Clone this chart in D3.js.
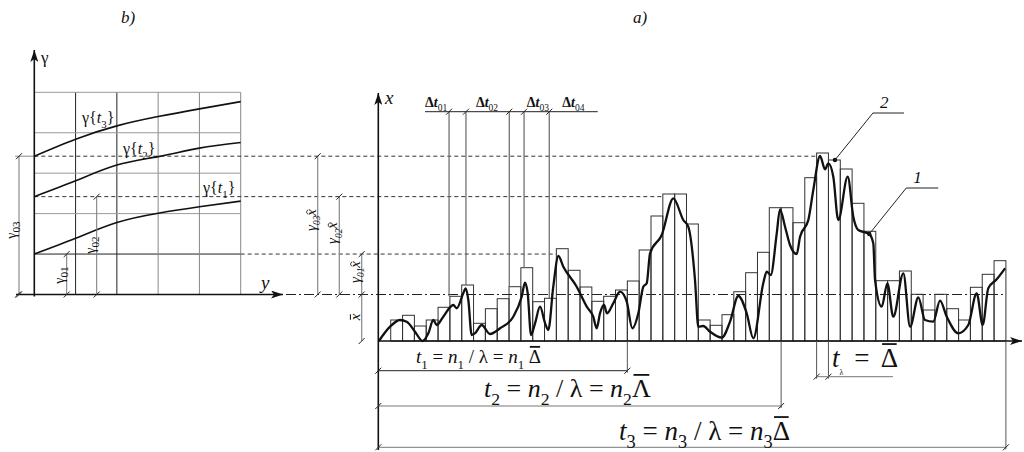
<!DOCTYPE html>
<html>
<head>
<meta charset="utf-8">
<script src="https://cdn.jsdelivr.net/npm/d3@7"></script>
<style>
  body { margin: 0; background: #fff; }
</style>
</head>
<body>
<script>
////////////////////////////////////////////////////////////////////////////////
// Data

// a) histogram: height of each interval of length Δ (slot 1..52)
var barHeights = [21, 25.7, 15, 21, 33.7, 44.7, 56, 17.7, 32.3, 42.3, 54.3, 73.3,
    39.3, 42.7, 92.3, 70.7, 54, 39.7, 44.7, 51, 60, 91, 125, 147, 147, 117, 21,
    15.7, 26.3, 49.3, 68.3, 88.7, 133.3, 133.3, 118.3, 163.3, 188, 181, 172,
    137.7, 109.7, 60.3, 60.3, 70, 46.7, 31, 46.7, 32.3, 21, 53.7, 66.7, 80.3];

// a) the process x(t), curve 1: time (in Δ units) and value
var curveT = [0, 0.94, 1.78, 2.35, 3.05, 3.7, 4.18, 4.6, 4.89, 5.44, 6.29, 6.58,
    7.13, 7.34, 7.56, 7.84, 8.12, 8.69, 9.39, 10.24, 11.36, 12.07, 12.35, 12.58,
    12.86, 13.2, 13.62, 14.05, 14.32, 14.74, 15.17, 15.59, 16.72, 17.57, 18.12,
    18.41, 18.69, 19.03, 19.28, 19.81, 20.38, 20.95, 21.42, 21.93, 22.35, 22.64,
    22.92, 23.91, 24.89, 25.73, 26.15, 26.72, 27.0, 27.42, 27.99, 28.98, 29.68,
    30.38, 31.09, 31.65, 32.49, 32.78, 33.12, 33.63, 33.9, 34.33, 34.75, 35.32,
    35.6, 36.3, 36.72, 37.29, 37.71, 37.99, 38.41, 38.83, 39.63, 40.1, 40.52,
    41.45, 41.79, 41.94, 42.5, 42.98, 43.48, 44.33, 44.9, 45.6, 46.16, 46.86,
    47.43, 48.0, 48.98, 49.82, 50.53, 51.04, 51.51, 52.22, 52.93];
var curveX = [0, 14.3, 21, 19.3, 9.3, 0, 7.7, 21, 16, 24.3, 36, 32.7,
    47.7, 52.7, 41, 6, 7.7, 16, 7, 12.7, 24.3, 44.3, 58.3, 47.7,
    6, 17.7, 34.3, 17.7, 11, 54.3, 85, 74.3, 54.3, 34.3, 24.3,
    12.7, 27.7, 36, 27.7, 37.7, 49.3, 39.3, 12.7, 27.7, 54.3, 57.7,
    87.7, 106, 142.7, 121, 114.3, 61, 14.3, 15, 9.3, 3.3, 19.3,
    45, 27.7, 2.7, 57.7, 69.3, 66, 107.7, 131.7, 114.3, 96, 87,
    104.3, 121, 151, 185, 171.7, 177.7, 164.3, 121, 164.3, 124.3, 111,
    107, 97.7, 61, 34.3, 57.7, 24.3, 67.7, 14.3, 43.7, 21, 19.3,
    40.3, 24.3, 7.7, 16, 47.7, 16, 52.7, 61.7, 72.7];

var xMean = 46.5;                 // x̄
var nMarks = [21, 34, 53];        // n1, n2, n3
var dtMarks = [5.93, 7.36, 11.02, 12.27, 14.4];
var dtLabels = ["01", "02", "03", "04"];
var dtLabelT = [3.9, 8.2, 12.5, 15.5];

// b) γ{t} curves over y
var yVals = [0, 1, 2, 3, 4, 5];
var gammaT1 = [1.0, 1.39, 1.78, 2.01, 2.17, 2.31];
var gammaT2 = [2.42, 2.81, 3.2, 3.41, 3.62, 3.76];
var gammaT3 = [3.42, 3.84, 4.17, 4.4, 4.59, 4.77];
var gamma0 = [1.0, 2.42, 3.42];   // γ01, γ02, γ03
var levelEnd = [15, 24, 37];      // slot where each level line stops

////////////////////////////////////////////////////////////////////////////////
var W = 1024, H = 452;
var FONT = "'Liberation Serif'";
var svg = d3.select("body").append("svg")
    .attr("width", W)
    .attr("height", H)
    .style("font-family", FONT);

var defs = svg.append("defs");
defs.append("marker")
    .attr("id", "arr")
    .attr("viewBox", "0 0 12 8")
    .attr("refX", 12).attr("refY", 4)
    .attr("markerWidth", 12).attr("markerHeight", 8)
    .attr("markerUnits", "userSpaceOnUse")
    .attr("orient", "auto")
  .append("path")
    .attr("d", "M0,0 L12,4 L0,8 L3,4 Z")
    .attr("fill", "#111");

// scales
var tScale = d3.scaleLinear().domain([0, 53]).range([378.9, 1005.9]);
var xScale = d3.scaleLinear().domain([0, 250]).range([341, 91]);
var yScale = d3.scaleLinear().domain([0, 5]).range([34.3, 240.7]);
var gScale = d3.scaleLinear().domain([0, 5]).range([xScale(xMean), 92.3]);

function line(g, x1, y1, x2, y2, color, width, dash) {
    var l = g.append("line")
        .attr("x1", x1).attr("y1", y1)
        .attr("x2", x2).attr("y2", y2)
        .attr("stroke", color || "#111")
        .attr("stroke-width", width || 1);
    if (dash) l.attr("stroke-dasharray", dash);
    return l;
}

function label(g, x, y, size, str, italic) {
    return g.append("text")
        .attr("x", x).attr("y", y)
        .attr("font-size", size)
        .attr("fill", "#111")
        .style("font-family", FONT)
        .style("font-style", italic ? "italic" : "normal")
        .text(str);
}

// architectural slash tick
function tick(g, x, y) {
    line(g, x - 3, y + 3, x + 3, y - 3, "#222", 1);
}

// text with italic / subscript / overbar / hat parts
function rich(g, x, y, size, parts, rot, anchor) {
    var grp = g.append("g")
        .attr("transform", "translate(" + x + "," + y + ")" + (rot ? " rotate(-90)" : ""));
    var t = grp.append("text")
        .attr("font-size", size)
        .attr("fill", "#111")
        .style("font-family", FONT);
    if (anchor) t.attr("text-anchor", anchor);
    var shift = 0, idx = 0, marks = [];
    parts.forEach(function(p) {
        var s = t.append("tspan").text(p.t);
        var want = p.sub ? size * 0.3 : 0;
        if (want !== shift) { s.attr("dy", want - shift); shift = want; }
        if (p.dx) s.attr("dx", p.dx);
        if (p.sub) s.attr("font-size", size * (p.small || 0.68));
        if (p.i) s.style("font-style", "italic");
        if (p.b) s.style("font-weight", "bold");
        if (p.ob || p.hat) marks.push({k: idx, p: p});
        idx += p.t.length;
    });
    marks.forEach(function(m) {
        var e = t.node().getExtentOfChar(m.k);
        var x0 = e.x, w = e.width;
        if (m.p.ob) {
            var yb = -size * m.p.ob;
            line(grp, x0 + w * 0.08, yb, x0 + w * 0.92, yb, "#111", size > 16 ? 1.8 : 1);
        } else {
            var yh = -size * 0.62;
            grp.append("path")
                .attr("d", "M" + (x0 + w * 0.2) + "," + (yh + size * 0.1) +
                           " L" + (x0 + w * 0.55) + "," + yh +
                           " L" + (x0 + w * 0.9) + "," + (yh + size * 0.1))
                .attr("fill", "none").attr("stroke", "#111").attr("stroke-width", 0.8);
        }
    });
    return t;
}

////////////////////////////////////////////////////////////////////////////////
// b) left panel
var left = svg.append("g");

// grid
yVals.forEach(function(v) {
    if (v === 0) return;
    line(left, yScale(v), gScale(0), yScale(v), gScale(5), v <= 2 ? "#222" : "#888", 1);
    line(left, yScale(0), gScale(v), yScale(5), gScale(v), v === 1 ? "#222" : "#999", 1);
});

// level lines γ0i, continued into panel a)
line(left, 15, gScale(gamma0[2]), yScale(0), gScale(gamma0[2]), "#888", 1);
line(left, yScale(0), gScale(gamma0[2]), tScale(levelEnd[2]), gScale(gamma0[2]), "#333", 1, "4,3");
line(left, yScale(0), gScale(gamma0[1]), tScale(levelEnd[1]), gScale(gamma0[1]), "#333", 1, "4,3");
line(left, yScale(5), gScale(gamma0[0]), tScale(levelEnd[0]), gScale(gamma0[0]), "#333", 1, "4,3");

// axes
line(left, yScale(0), gScale(0) + 2, yScale(0), 50, "#111", 1.6).attr("marker-end", "url(#arr)");
line(left, 16, gScale(0), 283, gScale(0), "#111", 1.6).attr("marker-end", "url(#arr)");
// mean line (dash-dot) in panel a)
line(left, 286, gScale(0), tScale(53), gScale(0), "#222", 1, "10,3,2,3");

label(left, 41, 63, 17, "γ");
label(left, 261, 289, 19, "y", true);

var gLine = d3.line()
    .x(function(d, i) { return yScale(yVals[i]); })
    .y(function(d) { return gScale(d); })
    .curve(d3.curveNatural);

[gammaT1, gammaT2, gammaT3].forEach(function(c) {
    left.append("path")
        .attr("d", gLine(c))
        .attr("fill", "none")
        .attr("stroke", "#111")
        .attr("stroke-width", 1.6);
});

rich(left, 82, 123, 16, [{t: "γ{"}, {t: "t", i: 1}, {t: "3", sub: 1}, {t: "}"}]);
rich(left, 123, 154, 16, [{t: "γ{"}, {t: "t", i: 1}, {t: "2", sub: 1}, {t: "}"}]);
rich(left, 203, 193, 16, [{t: "γ{"}, {t: "t", i: 1}, {t: "1", sub: 1}, {t: "}"}]);

// γ0i dimensions
var dimX = [66.7, 96.7, 19];
gamma0.forEach(function(g0, i) {
    line(left, dimX[i], gScale(0), dimX[i], gScale(g0), "#777", 1);
    tick(left, dimX[i], gScale(0));
    tick(left, dimX[i], gScale(g0));
});
tick(left, 18, gScale(0));
rich(left, 64, 275, 14, [{t: "γ"}, {t: "01", sub: 1, small: 0.8}], true, "middle");
rich(left, 95, 245, 14, [{t: "γ"}, {t: "02", sub: 1, small: 0.8}], true, "middle");
rich(left, 16, 230, 14, [{t: "γ"}, {t: "03", sub: 1, small: 0.8}], true, "middle");

label(svg, 121, 23, 17, "b)", true);
label(svg, 633, 23, 17, "a)", true);

////////////////////////////////////////////////////////////////////////////////
// a) right panel
var right = svg.append("g");

right.selectAll(".bar").data(barHeights)
    .enter().append("rect")
    .attr("class", "bar")
    .attr("x", function(d, i) { return tScale(i + 1); })
    .attr("y", function(d) { return xScale(d); })
    .attr("width", tScale(1) - tScale(0))
    .attr("height", function(d) { return xScale(0) - xScale(d); })
    .attr("fill", "none")
    .attr("stroke", "#333")
    .attr("stroke-width", 1);

var xLine = d3.line()
    .x(function(d, i) { return tScale(curveT[i]); })
    .y(function(d) { return xScale(d); })
    .curve(d3.curveMonotoneX);

right.append("path")
    .attr("d", xLine(curveX))
    .attr("fill", "none")
    .attr("stroke", "#111")
    .attr("stroke-width", 2.3);

// axes
line(right, 378.3, 450, 378.3, 93, "#111", 1.6).attr("marker-end", "url(#arr)");
line(right, 378.3, xScale(0), 1022, xScale(0), "#111", 1.4).attr("marker-end", "url(#arr)");
label(right, 385, 104, 19, "x", true);

// Δt intervals
var dtY = 111.7;
line(right, tScale(3.9), dtY, tScale(18.5), dtY, "#222", 1);
dtMarks.forEach(function(m) {
    var slot = Math.floor(m + 0.1);
    line(right, tScale(m), dtY, tScale(m), xScale(barHeights[slot - 1]), "#666", 1.2);
    tick(right, tScale(m), dtY);
});
dtLabels.forEach(function(s, i) {
    rich(right, tScale(dtLabelT[i]), 107, 14,
        [{t: "Δ", b: 1}, {t: "t", b: 1, i: 1}, {t: s, sub: 1}]);
});

// x̂ γ0i dimensions
var dimX2 = [361.7, 339.3, 317.7];
gamma0.forEach(function(g0, i) {
    var y0 = i === 0 ? xScale(0) : gScale(0);
    line(right, dimX2[i], y0, dimX2[i], gScale(g0), "#888", 1.2);
    tick(right, dimX2[i], gScale(0));
    tick(right, dimX2[i], gScale(g0));
});
tick(right, dimX2[0], xScale(0));
var hatY = [272, 233, 220];
gamma0.forEach(function(g0, i) {
    rich(right, dimX2[i] - 2, hatY[i], 15,
        [{t: "γ", i: 1}, {t: "0" + (i + 1), sub: 1, small: 0.62, i: 1}, {t: "x", i: 1, hat: 1}], true, "middle");
});
rich(right, dimX2[0] - 2, 317, 15, [{t: "x", i: 1, ob: 0.62}], true, "middle");

// t1, t2, t3 dimensions
var dimY = [370.7, 406, 447.3];
nMarks.forEach(function(n, i) {
    line(right, 378.3, dimY[i], tScale(n), dimY[i], i === 0 ? "#222" : "#777", 1);
    line(right, tScale(n), xScale(0), tScale(n), dimY[i] + 2, "#555", 1);
    tick(right, 378.3, dimY[i]);
    tick(right, tScale(n), dimY[i]);
});

rich(right, 416, 363, 19, [{t: "t", i: 1}, {t: "1", sub: 1}, {t: " = "}, {t: "n", i: 1},
    {t: "1", sub: 1}, {t: " / λ = "}, {t: "n", i: 1}, {t: "1", sub: 1}, {t: " "}, {t: "Δ", ob: 0.85}]);
rich(right, 484, 397, 26, [{t: "t", i: 1}, {t: "2", sub: 1}, {t: " = "}, {t: "n", i: 1},
    {t: "2", sub: 1}, {t: " / λ = "}, {t: "n", i: 1}, {t: "2", sub: 1}, {t: "Λ", ob: 0.85}]);
rich(right, 619, 440, 27, [{t: "t", i: 1}, {t: "3", sub: 1}, {t: " = "}, {t: "n", i: 1},
    {t: "3", sub: 1}, {t: " / λ = "}, {t: "n", i: 1}, {t: "3", sub: 1}, {t: "Δ", ob: 0.85}]);

// tλ = Δ̄
var lamY = 376.7;
[37, 38].forEach(function(n) {
    line(right, tScale(n), xScale(0), tScale(n), lamY + 2, "#555", 1);
    tick(right, tScale(n), lamY);
});
line(right, tScale(37), lamY, 893, lamY, "#777", 1);
rich(right, 832, 367, 27, [{t: "t", i: 1}, {t: "λ", sub: 1, small: 0.3}, {t: " = ", dx: 4},
    {t: "Δ", ob: 0.85, dx: 6}]);

// leaders 1 and 2
var p2 = {x: tScale(38.55), y: xScale(barHeights[37])};
var p1 = {x: tScale(curveT[79]), y: xScale(curveX[79])};
[[p2, 38, 47, 31, "2"], [p1, 37, 46, 32, "1"]].forEach(function(a) {
    var p = a[0];
    right.append("circle").attr("cx", p.x).attr("cy", p.y).attr("r", 2.2).attr("fill", "#111");
    right.append("path")
        .attr("d", "M" + p.x + "," + p.y + " L" + (p.x + a[1]) + "," + (p.y - a[2]) +
                   " L" + (p.x + a[1] + a[3]) + "," + (p.y - a[2]))
        .attr("fill", "none").attr("stroke", "#222").attr("stroke-width", 1);
    label(right, p.x + a[1] + 7, p.y - a[2] - 5, 17, a[4], true);
});
</script>
</body>
</html>
